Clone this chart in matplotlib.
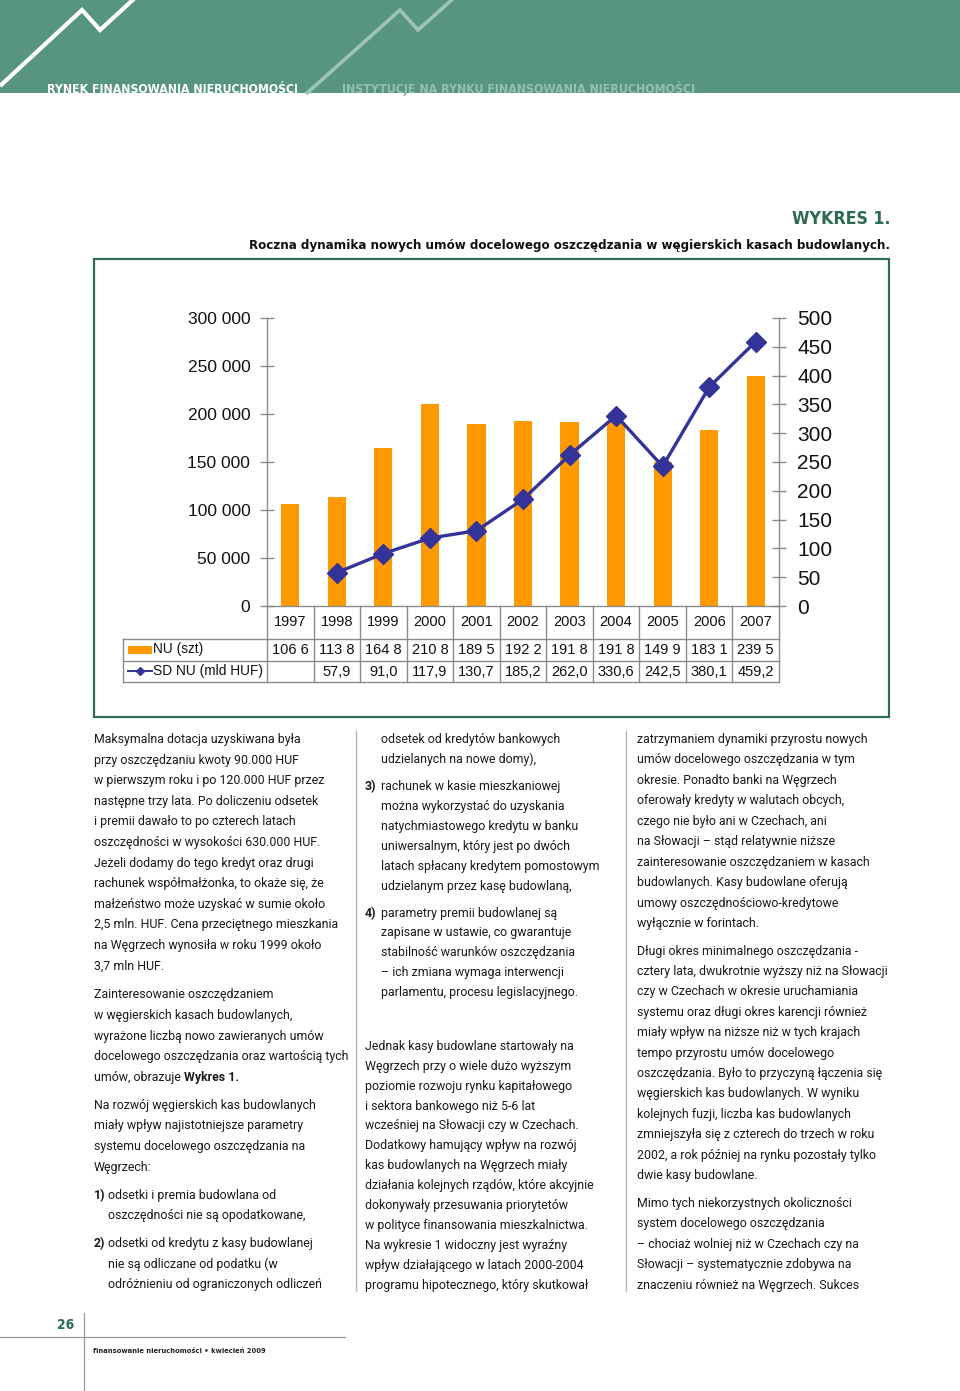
import matplotlib
matplotlib.use('Agg')
import matplotlib.pyplot as plt
import matplotlib.transforms as mtrans
from matplotlib.patches import Rectangle
from matplotlib.lines import Line2D

# ---------------- data ----------------
years = ['1997', '1998', '1999', '2000', '2001', '2002', '2003', '2004', '2005', '2006', '2007']
nu_thousands = [106.6, 113.8, 164.8, 210.8, 189.5, 192.2, 191.8, 191.8, 149.9, 183.1, 239.5]
sd_years = ['1998', '1999', '2000', '2001', '2002', '2003', '2004', '2005', '2006', '2007']
sd_values = [57.9, 91.0, 117.9, 130.7, 185.2, 262.0, 330.6, 242.5, 380.1, 459.2]
left_ticks = [0, 50000, 100000, 150000, 200000, 250000, 300000]
right_ticks = [0, 50, 100, 150, 200, 250, 300, 350, 400, 450, 500]
series_names = ['NU (szt)', 'SD NU (mld HUF)']

header_left = 'RYNEK FINANSOWANIA NIERUCHOMOŚCI'
header_right = 'INSTYTUCJE NA RYNKU FINANSOWANIA NIERUCHOMOŚCI'
chart_label = 'WYKRES 1.'
chart_title = 'Roczna dynamika nowych umów docelowego oszczędzania w węgierskich kasach budowlanych.'
footer_page = '26'
footer_text = 'finansowanie nieruchomości • kwiecień 2009'

col1 = [
    (738, 'Maksymalna dotacja uzyskiwana była'),
    (759, 'przy oszczędzaniu kwoty 90.000 HUF'),
    (779, 'w pierwszym roku i po 120.000 HUF przez'),
    (800, 'następne trzy lata. Po doliczeniu odsetek'),
    (820, 'i premii dawało to po czterech latach'),
    (841, 'oszczędności w wysokości 630.000 HUF.'),
    (862, 'Jeżeli dodamy do tego kredyt oraz drugi'),
    (882, 'rachunek współmałżonka, to okaże się, że'),
    (903, 'małżeństwo może uzyskać w sumie około'),
    (923, '2,5 mln. HUF. Cena przeciętnego mieszkania'),
    (944, 'na Węgrzech wynosiła w roku 1999 około'),
    (965, '3,7 mln HUF.'),
    (993, 'Zainteresowanie oszczędzaniem'),
    (1014, 'w węgierskich kasach budowlanych,'),
    (1035, 'wyrażone liczbą nowo zawieranych umów'),
    (1055, 'docelowego oszczędzania oraz wartością tych'),
    (1076, ('umów, obrazuje ', 'Wykres 1.')),
    (1104, 'Na rozwój węgierskich kas budowlanych'),
    (1124, 'miały wpływ najistotniejsze parametry'),
    (1145, 'systemu docelowego oszczędzania na'),
    (1166, 'Węgrzech:'),
    (1194, ('1)', 'odsetki i premia budowlana od')),
    (1214, ('', 'oszczędności nie są opodatkowane,')),
    (1242, ('2)', 'odsetki od kredytu z kasy budowlanej')),
    (1263, ('', 'nie są odliczane od podatku (w')),
    (1283, ('', 'odróżnieniu od ograniczonych odliczeń')),
]
col2 = [
    (738, ('', 'odsetek od kredytów bankowych')),
    (758, ('', 'udzielanych na nowe domy),')),
    (785, ('3)', 'rachunek w kasie mieszkaniowej')),
    (805, ('', 'można wykorzystać do uzyskania')),
    (825, ('', 'natychmiastowego kredytu w banku')),
    (845, ('', 'uniwersalnym, który jest po dwóch')),
    (865, ('', 'latach spłacany kredytem pomostowym')),
    (885, ('', 'udzielanym przez kasę budowlaną,')),
    (912, ('4)', 'parametry premii budowlanej są')),
    (931, ('', 'zapisane w ustawie, co gwarantuje')),
    (951, ('', 'stabilność warunków oszczędzania')),
    (971, ('', '– ich zmiana wymaga interwencji')),
    (991, ('', 'parlamentu, procesu legislacyjnego.')),
    (1045, 'Jednak kasy budowlane startowały na'),
    (1065, 'Węgrzech przy o wiele dużo wyższym'),
    (1085, 'poziomie rozwoju rynku kapitałowego'),
    (1105, 'i sektora bankowego niż 5-6 lat'),
    (1124, 'wcześniej na Słowacji czy w Czechach.'),
    (1144, 'Dodatkowy hamujący wpływ na rozwój'),
    (1164, 'kas budowlanych na Węgrzech miały'),
    (1184, 'działania kolejnych rządów, które akcyjnie'),
    (1204, 'dokonywały przesuwania priorytetów'),
    (1224, 'w polityce finansowania mieszkalnictwa.'),
    (1244, 'Na wykresie 1 widoczny jest wyraźny'),
    (1264, 'wpływ działającego w latach 2000-2004'),
    (1284, 'programu hipotecznego, który skutkował'),
]
col3 = [
    (738, 'zatrzymaniem dynamiki przyrostu nowych'),
    (758, 'umów docelowego oszczędzania w tym'),
    (779, 'okresie. Ponadto banki na Węgrzech'),
    (799, 'oferowały kredyty w walutach obcych,'),
    (820, 'czego nie było ani w Czechach, ani'),
    (840, 'na Słowacji – stąd relatywnie niższe'),
    (861, 'zainteresowanie oszczędzaniem w kasach'),
    (881, 'budowlanych. Kasy budowlane oferują'),
    (902, 'umowy oszczędnościowo-kredytowe'),
    (922, 'wyłącznie w forintach.'),
    (950, 'Długi okres minimalnego oszczędzania -'),
    (970, 'cztery lata, dwukrotnie wyższy niż na Słowacji'),
    (990, 'czy w Czechach w okresie uruchamiania'),
    (1011, 'systemu oraz długi okres karencji również'),
    (1031, 'miały wpływ na niższe niż w tych krajach'),
    (1052, 'tempo przyrostu umów docelowego'),
    (1072, 'oszczędzania. Było to przyczyną łączenia się'),
    (1092, 'węgierskich kas budowlanych. W wyniku'),
    (1113, 'kolejnych fuzji, liczba kas budowlanych'),
    (1133, 'zmniejszyła się z czterech do trzech w roku'),
    (1154, '2002, a rok później na rynku pozostały tylko'),
    (1174, 'dwie kasy budowlane.'),
    (1202, 'Mimo tych niekorzystnych okoliczności'),
    (1222, 'system docelowego oszczędzania'),
    (1243, '– chociaż wolniej niż w Czechach czy na'),
    (1263, 'Słowacji – systematycznie zdobywa na'),
    (1284, 'znaczeniu również na Węgrzech. Sukces'),
]

# ---------------- style ----------------
W, H, DPI = 960, 1391, 100
GREEN_BAND = '#57957f'
GREEN_DARK = '#2c6b4f'
ORANGE = '#ff9900'
NAVY = '#333399'
GRAY = '#8a8a8a'
CHART_FONT = ['Liberation Sans', 'DejaVu Sans']
COND_FONT = ['DejaVu Sans']
BODY_FONT = ['Roboto', 'DejaVu Sans']
TXT = '#1a1a1a'

fig = plt.figure(figsize=(W / DPI, H / DPI), dpi=DPI)
fig.patch.set_facecolor('white')
renderer = fig.canvas.get_renderer()

# overlay axes in pixel coordinates
ov = fig.add_axes([0, 0, 1, 1], zorder=0)
ov.set_xlim(0, W)
ov.set_ylim(H, 0)
ov.axis('off')


def fit(t, target_w):
    bb = t.get_window_extent(renderer)
    t.set_fontsize(t.get_fontsize() * target_w / bb.width)
    return t


cond = dict(family=COND_FONT, fontstretch='condensed', fontweight='bold')

# header band
ov.add_patch(Rectangle((0, 0), W, 93, facecolor=GREEN_BAND, edgecolor='none'))
ov.plot([0, 82, 100, 136], [86, 10, 30, -3], color='white', lw=3.0,
        solid_joinstyle='miter', solid_capstyle='butt')
ov.plot([306, 400, 418, 455], [94, 10, 30, -3], color='#9cc5b6', lw=2.6,
        solid_joinstyle='miter', solid_capstyle='butt')
fit(ov.text(47, 93, header_left, color='white', fontsize=12,
            va='baseline', ha='left', **cond), 253)
fit(ov.text(342, 93, header_right, color='#93c0b0', fontsize=12,
            va='baseline', ha='left', **cond), 355)

# chart caption
fit(ov.text(890, 224, chart_label, color=GREEN_DARK, fontsize=12,
            va='baseline', ha='right', **cond), 98)
fit(ov.text(890, 249, chart_title, color='#111111', fontsize=12,
            va='baseline', ha='right', **cond), 640)

# chart frame
ov.add_patch(Rectangle((94, 259), 795, 458, facecolor='none', edgecolor='#2f6e55', lw=1.6))

# column separators
for x in (356, 626):
    ov.plot([x, x], [731, 1291], color='#b5b5b5', lw=1.0)

# footer
fit(ov.text(74, 1329, footer_page, color=GREEN_DARK, fontsize=12,
            va='baseline', ha='right', **cond), 17)
ov.plot([0, 345], [1337, 1337], color='#9a9a9a', lw=0.9)
ov.plot([84, 84], [1313, 1391], color='#9a9a9a', lw=0.9)
fit(ov.text(93, 1353, footer_text, color='#222222', fontsize=7,
            va='baseline', ha='left', **cond), 172)

# ---------------- body text ----------------
probe = ov.text(0, 0, 'cztery lata, dwukrotnie wyższy niż na Słowacji', fontsize=10,
                family=BODY_FONT)
pw = probe.get_window_extent(renderer).width
BODY_SIZE = 10 * 252 / pw
probe.remove()


def body_column(lines, x0, num_x, indent_x):
    for y, content in lines:
        yb = y + 5
        if isinstance(content, str):
            ov.text(x0, yb, content, fontsize=BODY_SIZE, family=BODY_FONT, color=TXT,
                    va='baseline', ha='left')
        else:
            a, b = content
            if a.endswith(' '):  # regular text followed by bold piece
                t1 = ov.text(x0, yb, a.rstrip(), fontsize=BODY_SIZE, family=BODY_FONT,
                             color=TXT, va='baseline', ha='left')
                ov.annotate(b, xy=(1, 0), xycoords=t1, xytext=(BODY_SIZE * 0.28, 0),
                            textcoords='offset points', fontsize=BODY_SIZE,
                            family=BODY_FONT, fontweight='bold', color=TXT,
                            va='bottom', ha='left')
            else:
                if a:
                    ov.text(num_x, yb, a, fontsize=BODY_SIZE, family=BODY_FONT,
                            fontweight='bold', color=TXT, va='baseline', ha='left')
                ov.text(indent_x, yb, b, fontsize=BODY_SIZE, family=BODY_FONT,
                        color=TXT, va='baseline', ha='left')


body_column(col1, 94, 94, 108)
body_column(col2, 365, 365, 381)
body_column(col3, 637, 637, 653)

# ---------------- chart ----------------
AX_L, AX_R, AX_T, AX_B = 267, 779, 318, 606
ax = fig.add_axes([AX_L / W, 1 - AX_B / H, (AX_R - AX_L) / W, (AX_B - AX_T) / H], zorder=2)
ax.set_facecolor('none')
xs = list(range(len(years)))
ax.bar(xs, [v * 1000 for v in nu_thousands], width=0.39, color=ORANGE, zorder=2)
ax.set_xlim(-0.5, len(years) - 0.5)
ax.set_ylim(0, 300000)
ax.set_xticks([])
ax.set_yticks(left_ticks)
ax.set_yticklabels([f'{v:,}'.replace(',', ' ') for v in left_ticks], family=CHART_FONT)
ax.tick_params(axis='y', direction='inout', length=10, width=1, color=GRAY,
               pad=7, labelsize=12.5, labelcolor='#111111')
for s in ('top', 'right'):
    ax.spines[s].set_visible(False)
for s in ('left', 'bottom'):
    ax.spines[s].set_color(GRAY)
    ax.spines[s].set_linewidth(1)

ax2 = ax.twinx()
ax2.set_facecolor('none')
sd_x = [years.index(y) for y in sd_years]
ax2.plot(sd_x, sd_values, color=NAVY, lw=2.4, marker='D', ms=10, mfc=NAVY, mec=NAVY,
         zorder=3)
ax2.set_ylim(0, 500)
ax2.set_yticks(right_ticks)
ax2.set_yticklabels([str(v) for v in right_ticks], family=CHART_FONT)
ax2.tick_params(axis='y', direction='inout', length=10, width=1, color=GRAY,
                pad=8, labelsize=15, labelcolor='#111111')
for s in ('top', 'left', 'bottom'):
    ax2.spines[s].set_visible(False)
ax2.spines['right'].set_color(GRAY)
ax2.spines['right'].set_linewidth(1)


# ---- data table under the axis ----
def axy(py):
    return (AX_B - py) / (AX_B - AX_T)


def axx(px):
    return (px - AX_L) / (AX_R - AX_L)


r0, r1, r2, r3 = 0, axy(639), axy(661), axy(682)
blend = mtrans.blended_transform_factory(ax.transData, ax.transAxes)
lkw = dict(color=GRAY, lw=1, clip_on=False)
for yy in (r1, r2, r3):
    ax.add_line(Line2D([axx(123), 1], [yy, yy], transform=ax.transAxes, **lkw))
ax.add_line(Line2D([axx(123), axx(123)], [r1, r3], transform=ax.transAxes, **lkw))
for i in range(len(years) + 1):
    ax.add_line(Line2D([i - 0.5, i - 0.5], [r0, r3], transform=blend, **lkw))

tkw = dict(family=CHART_FONT, fontsize=10.5, color='#111111', ha='center',
           va='center', clip_on=False, transform=blend)
for i, y in enumerate(years):
    ax.text(i, (r0 + r1) / 2, y, **tkw)
    ax.text(i, (r1 + r2) / 2, f'{nu_thousands[i]:.1f}'.replace('.', ' '), **tkw)
for x, v in zip(sd_x, sd_values):
    ax.text(x, (r2 + r3) / 2, f'{v:.1f}'.replace('.', ','), **tkw)

# legend keys inside the table
ax.add_patch(Rectangle((axx(128), axy(654)), axx(152) - axx(128), axy(646) - axy(654),
                       transform=ax.transAxes, facecolor=ORANGE, edgecolor='none',
                       clip_on=False))
ax.add_line(Line2D([axx(128), axx(152)], [axy(671), axy(671)], transform=ax.transAxes,
                   color=NAVY, lw=1.4, clip_on=False))
ax.add_line(Line2D([axx(140)], [axy(671)], transform=ax.transAxes, color=NAVY,
                   marker='D', ms=4.5, clip_on=False))
lk = dict(family=CHART_FONT, fontsize=11, color='#111111', ha='left', va='center',
          clip_on=False, transform=ax.transAxes)
t_nu = ax.text(axx(153), axy(649), series_names[0], **lk)
t_sd = ax.text(axx(153), axy(670.5), series_names[1], **lk)
fit(t_sd, 110)
t_nu.set_fontsize(t_sd.get_fontsize())

fig.savefig('out.png', dpi=DPI, facecolor='white')
